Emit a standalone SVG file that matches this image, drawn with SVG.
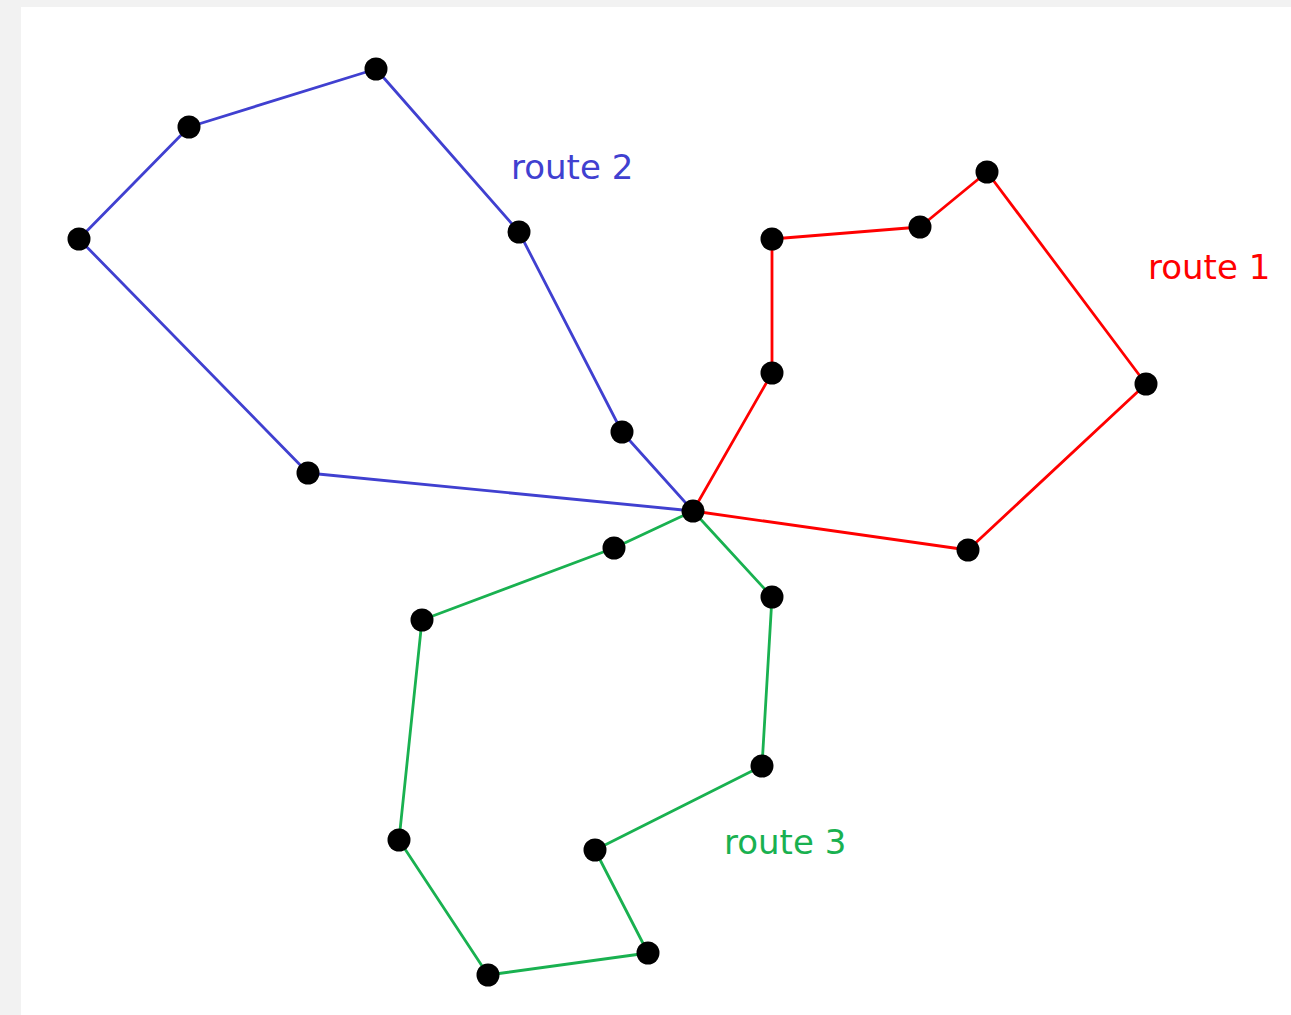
<svg xmlns="http://www.w3.org/2000/svg" width="1291" height="1015" viewBox="0 0 1291 1015">
<style>
.edge{fill:none;stroke-width:2.8;stroke-linejoin:round}
.r1{stroke:#ff0000}.r2{stroke:#4040d0}.r3{stroke:#19b150}
.node{fill:#000}
.lbl{font-family:"DejaVu Sans",sans-serif;font-size:34px}
</style>
<rect width="1291" height="1015" fill="#f2f2f2"/>
<rect x="21" y="7" width="1270" height="1008" fill="#ffffff"/>
<g id="connectors">
<polyline class="edge r2" points="693,511 622,432 519,232 376,69 189,127 79,239 308,473 693,511"/>
<polyline class="edge r1" points="693,511 772,373 772,239 920,227 987,172 1146,384 968,550 693,511"/>
<polyline class="edge r3" points="693,511 614,548 422,620 399,840 488,975 648,953 595,850 762,766 772,597 693,511"/>
</g>
<g id="nodes">
<circle id="n_hub" class="node" cx="693" cy="511" r="11.5"/>
<circle id="n_b1" class="node" cx="622" cy="432" r="11.5"/>
<circle id="n_b2" class="node" cx="519" cy="232" r="11.5"/>
<circle id="n_b3" class="node" cx="376" cy="69" r="11.5"/>
<circle id="n_b4" class="node" cx="189" cy="127" r="11.5"/>
<circle id="n_b5" class="node" cx="79" cy="239" r="11.5"/>
<circle id="n_b6" class="node" cx="308" cy="473" r="11.5"/>
<circle id="n_r1" class="node" cx="772" cy="373" r="11.5"/>
<circle id="n_r2" class="node" cx="772" cy="239" r="11.5"/>
<circle id="n_r3" class="node" cx="920" cy="227" r="11.5"/>
<circle id="n_r4" class="node" cx="987" cy="172" r="11.5"/>
<circle id="n_r5" class="node" cx="1146" cy="384" r="11.5"/>
<circle id="n_r6" class="node" cx="968" cy="550" r="11.5"/>
<circle id="n_g1" class="node" cx="614" cy="548" r="11.5"/>
<circle id="n_g2" class="node" cx="422" cy="620" r="11.5"/>
<circle id="n_g3" class="node" cx="399" cy="840" r="11.5"/>
<circle id="n_g4" class="node" cx="488" cy="975" r="11.5"/>
<circle id="n_g5" class="node" cx="648" cy="953" r="11.5"/>
<circle id="n_g6" class="node" cx="595" cy="850" r="11.5"/>
<circle id="n_g7" class="node" cx="762" cy="766" r="11.5"/>
<circle id="n_g8" class="node" cx="772" cy="597" r="11.5"/>
</g>
<g id="labels">
<text class="lbl" x="511" y="179" fill="#4040d0">route 2</text>
<text class="lbl" x="1148" y="279" fill="#ff0000">route 1</text>
<text class="lbl" x="724" y="854" fill="#19b150">route 3</text>
</g>
</svg>
